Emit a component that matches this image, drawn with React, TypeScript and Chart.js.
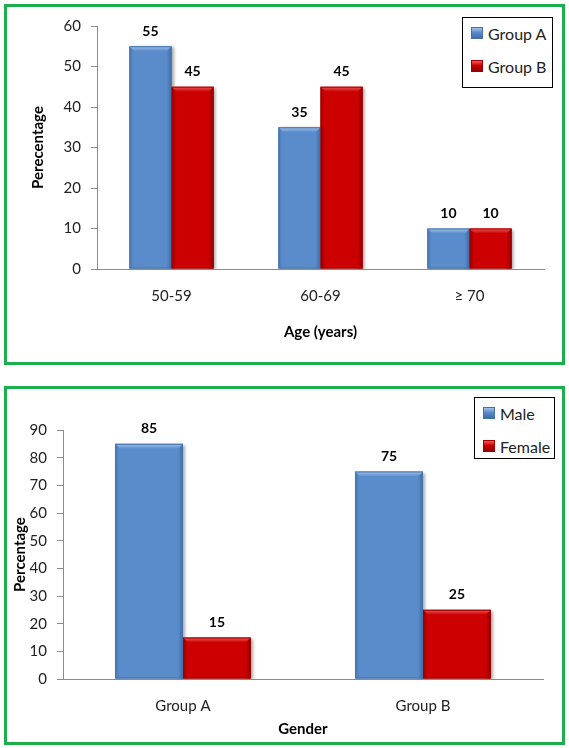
import React, { useEffect, useRef } from "react";
import { Chart, registerables } from "chart.js";

Chart.register(...registerables);

// ---- Data ----
const ageCategories = ["50-59", "60-69", "≥ 70"];
const ageGroupA = [55, 35, 10];
const ageGroupB = [45, 45, 10];
const ageYMax = 60;

const genderCategories = ["Group A", "Group B"];
const genderMale = [85, 75];
const genderFemale = [15, 25];
const genderYMax = 90;

const yStep = 10;

const FONT = "Lato, 'Open Sans', 'DejaVu Sans', sans-serif";
const BLUE = { base: "#5A8BCA", light: "#A3C2EC", dark: "#3E6DA6", border: "#4472A8" };
const RED = { base: "#CC0000", light: "#F05A5A", dark: "#8E0000", border: "#A00000" };

type Palette = typeof BLUE;

const barDecor = {
  id: "barDecor",
  beforeDatasetsDraw(chart: any) {
    const ctx = chart.ctx;
    ctx.save();
    ctx.shadowColor = "rgba(0,0,0,0.35)";
    ctx.shadowBlur = 3;
    ctx.shadowOffsetX = 2;
    ctx.shadowOffsetY = 1;
  },
  afterDatasetsDraw(chart: any) {
    const ctx = chart.ctx;
    ctx.restore();
    chart.data.datasets.forEach((ds: any, di: number) => {
      const pal: Palette = ds._palette;
      const meta = chart.getDatasetMeta(di);
      meta.data.forEach((el: any, i: number) => {
        const { x, y, base, width } = el.getProps(["x", "y", "base", "width"], true);
        const l = x - width / 2;
        const r = x + width / 2;
        const t = y;
        const b = base;
        const bv = 5;
        ctx.save();
        // right edge shade
        let g = ctx.createLinearGradient(r - 5, 0, r, 0);
        g.addColorStop(0, pal.base);
        g.addColorStop(1, pal.dark);
        ctx.fillStyle = g;
        ctx.beginPath();
        ctx.moveTo(r - bv, t + bv);
        ctx.lineTo(r, t);
        ctx.lineTo(r, b);
        ctx.lineTo(r - bv, b);
        ctx.closePath();
        ctx.fill();
        // left edge shade
        g = ctx.createLinearGradient(l, 0, l + 4, 0);
        g.addColorStop(0, pal.dark);
        g.addColorStop(1, pal.base);
        ctx.fillStyle = g;
        ctx.beginPath();
        ctx.moveTo(l, t);
        ctx.lineTo(l + bv, t + bv);
        ctx.lineTo(l + bv, b);
        ctx.lineTo(l, b);
        ctx.closePath();
        ctx.globalAlpha = 0.6;
        ctx.fill();
        ctx.globalAlpha = 1;
        // top bevel
        g = ctx.createLinearGradient(0, t, 0, t + bv);
        g.addColorStop(0, pal.light);
        g.addColorStop(1, pal.base);
        ctx.fillStyle = g;
        ctx.beginPath();
        ctx.moveTo(l, t);
        ctx.lineTo(r, t);
        ctx.lineTo(r - bv, t + bv);
        ctx.lineTo(l + bv, t + bv);
        ctx.closePath();
        ctx.fill();
        // outline
        ctx.strokeStyle = pal.border;
        ctx.lineWidth = 1;
        ctx.strokeRect(l + 0.5, t + 0.5, width - 1, b - t - 1);
        // value label
        ctx.fillStyle = "#000";
        ctx.font = `bold 14px ${FONT}`;
        ctx.textAlign = "center";
        ctx.textBaseline = "middle";
        ctx.fillText(String(ds.data[i]), x, t - 15);
        ctx.restore();
      });
    });
  },
};

type Series = { label: string; data: number[]; pal: Palette };

type PanelCfg = {
  top: number;
  height: number;
  labels: string[];
  series: Series[];
  yMax: number;
  yTitle: string;
  xTitle: string;
  padTop: number;
  padLeft: number;
  padRight: number;
  padBottom: number;
  yWidth: number;
  xHeight: number;
  legend: { left: number; top: number; width: number; height: number; rows: number[] };
};

function BarPanel({ cfg }: { cfg: PanelCfg }) {
  const ref = useRef<HTMLCanvasElement>(null);
  useEffect(() => {
    if (!ref.current) return;
    const chart = new Chart(ref.current, {
      type: "bar",
      data: {
        labels: cfg.labels,
        datasets: cfg.series.map((s) => ({
          label: s.label,
          data: s.data,
          backgroundColor: s.pal.base,
          borderWidth: 0,
          categoryPercentage: 0.565,
          barPercentage: 1.0,
          _palette: s.pal,
        })) as any,
      },
      options: {
        responsive: false,
        animation: false,
        devicePixelRatio: 1,
        layout: {
          padding: { top: cfg.padTop, left: cfg.padLeft, right: cfg.padRight, bottom: cfg.padBottom },
        },
        plugins: {
          legend: { display: false },
          tooltip: { enabled: false },
        },
        scales: {
          x: {
            grid: { display: false, drawTicks: false },
            border: { display: true, color: "#8c8c8c", width: 1 },
            ticks: { color: "#222", font: { family: FONT, size: 15 }, padding: 18 },
            title: {
              display: true,
              text: cfg.xTitle,
              color: "#000",
              font: { family: FONT, size: 15, weight: "bold" },
              padding: { top: 4, bottom: 4 },
            },
            afterFit: (scale: any) => {
              scale.height = cfg.xHeight;
            },
          },
          y: {
            min: 0,
            max: cfg.yMax,
            grid: {
              display: true,
              drawOnChartArea: false,
              drawTicks: true,
              tickLength: 6,
              color: "#8c8c8c",
            },
            border: { display: true, color: "#8c8c8c", width: 1 },
            ticks: { stepSize: yStep, color: "#222", font: { family: FONT, size: 15 }, padding: 10 },
            title: {
              display: true,
              text: cfg.yTitle,
              color: "#000",
              font: { family: FONT, size: 15, weight: "bold" },
              padding: { top: 4, bottom: 4 },
            },
            afterFit: (scale: any) => {
              scale.width = cfg.yWidth;
            },
          },
        },
      } as any,
      plugins: [barDecor],
    });
    return () => chart.destroy();
  }, [cfg]);

  const lg = cfg.legend;
  return (
    <div
      style={{
        position: "absolute",
        left: 4,
        top: cfg.top,
        width: 555,
        height: cfg.height,
        border: "3px solid #1DAF4E",
        background: "#fff",
      }}
    >
      <canvas ref={ref} width={555} height={cfg.height} style={{ position: "absolute", left: 0, top: 0 }} />
      <div
        style={{
          position: "absolute",
          left: lg.left,
          top: lg.top,
          width: lg.width,
          height: lg.height,
          boxSizing: "border-box",
          border: "1px solid #000",
          background: "#fff",
          fontFamily: FONT,
          fontSize: 16,
          color: "#222",
        }}
      >
        {cfg.series.map((s, i) => (
          <div
            key={s.label}
            style={{
              position: "absolute",
              left: 8,
              top: lg.rows[i] - 11,
              height: 22,
              display: "flex",
              alignItems: "center",
              whiteSpace: "nowrap",
            }}
          >
            <span
              style={{
                display: "inline-block",
                width: 10,
                height: 10,
                marginRight: 5,
                background: `linear-gradient(180deg, ${s.pal.light} 0%, ${s.pal.base} 45%, ${s.pal.dark} 100%)`,
                border: `1px solid ${s.pal.border}`,
              }}
            />
            <span>{s.label}</span>
          </div>
        ))}
      </div>
    </div>
  );
}

const ageCfg: PanelCfg = {
  top: 4,
  height: 355,
  labels: ageCategories,
  series: [
    { label: "Group A", data: ageGroupA, pal: BLUE },
    { label: "Group B", data: ageGroupB, pal: RED },
  ],
  yMax: ageYMax,
  yTitle: "Perecentage",
  xTitle: "Age (years)",
  padTop: 17,
  padLeft: 18.6,
  padRight: 18,
  padBottom: 16.6,
  yWidth: 71.4,
  xHeight: 76.4,
  legend: { left: 455, top: 10, width: 91, height: 71, rows: [15, 48] },
};

const genderCfg: PanelCfg = {
  top: 386,
  height: 353,
  labels: genderCategories,
  series: [
    { label: "Male", data: genderMale, pal: BLUE },
    { label: "Female", data: genderFemale, pal: RED },
  ],
  yMax: genderYMax,
  yTitle: "Percentage",
  xTitle: "Gender",
  padTop: 41,
  padLeft: 0,
  padRight: 19,
  padBottom: 0,
  yWidth: 56,
  xHeight: 63,
  legend: { left: 467, top: 8, width: 81, height: 62, rows: [15, 48] },
};

export default function App() {
  return (
    <div style={{ position: "absolute", left: 0, top: 0, width: 569, height: 748, background: "#fff" }}>
      <BarPanel cfg={ageCfg} />
      <BarPanel cfg={genderCfg} />
    </div>
  );
}
